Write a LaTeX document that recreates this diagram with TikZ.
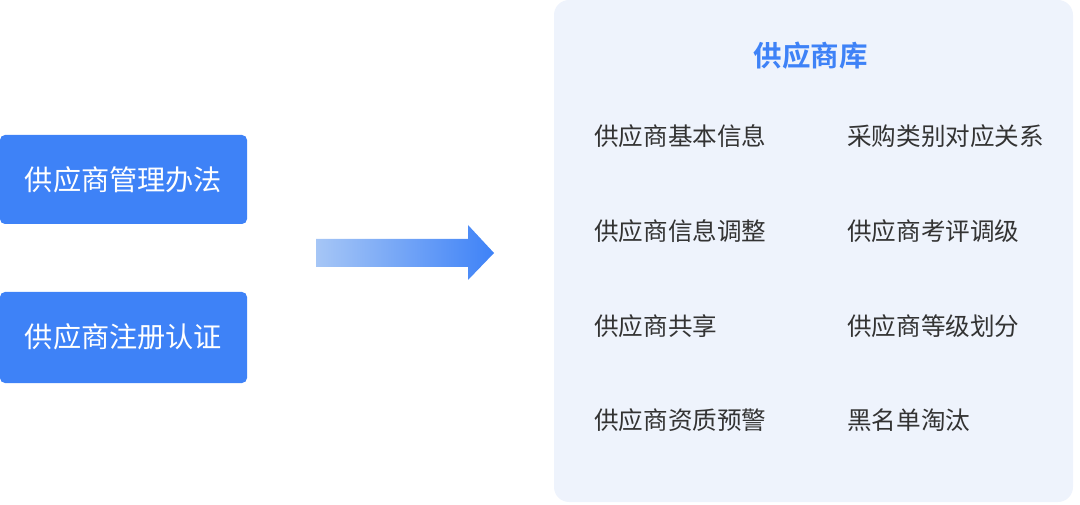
\documentclass[tikz,border=0pt]{standalone}
\usepackage{fontspec}
\newfontfamily\cjk{Noto Sans CJK SC}
\newfontfamily\cjkb{Noto Sans CJK SC Bold}
\usetikzlibrary{shapes.arrows}
\definecolor{mainblue}{HTML}{3E82F7}
\definecolor{lightblue}{HTML}{A6C6F6}
\definecolor{panelbg}{HTML}{EEF3FC}
\definecolor{itemtext}{HTML}{333333}
\begin{document}
\begin{tikzpicture}[x=1pt,y=-1pt,
  srcbox/.style={fill=mainblue, rounded corners=5pt, inner sep=0pt},
  srctext/.style={text=white, font=\cjk\fontsize{28.2}{32}\selectfont, inner sep=0pt},
  item/.style={anchor=west, text=itemtext, font=\cjk\fontsize{24.6}{28}\selectfont, inner sep=0pt}]
\useasboundingbox (0,0) rectangle (1080,505);
% left boxes
\fill[srcbox] (0,135) rectangle (247,224);
\node[srctext] (a) at (123.5,180) {供应商管理办法};
\fill[srcbox] (0,292) rectangle (247,383);
\node[srctext] (b) at (123.5,337) {供应商注册认证};
% arrow
\shade[left color=lightblue, right color=mainblue] (316,239) -- (468,239) -- (468,225) -- (494,253) -- (468,280) -- (468,267) -- (316,267) -- cycle;
% panel
\fill[panelbg, rounded corners=15pt] (554,0) rectangle (1073,502);
\node[text=mainblue, font=\cjkb\fontsize{28.5}{32}\selectfont, inner sep=0pt] (t) at (810.5,56) {供应商库};
\node[item] (i1) at (594,136) {供应商基本信息};
\node[item] (i2) at (847,136) {采购类别对应关系};
\node[item] (i3) at (594,231) {供应商信息调整};
\node[item] (i4) at (847,231) {供应商考评调级};
\node[item] (i5) at (594,326) {供应商共享};
\node[item] (i6) at (847,326) {供应商等级划分};
\node[item] (i7) at (594,420) {供应商资质预警};
\node[item] (i8) at (847,420) {黑名单淘汰};
\end{tikzpicture}
\end{document}
